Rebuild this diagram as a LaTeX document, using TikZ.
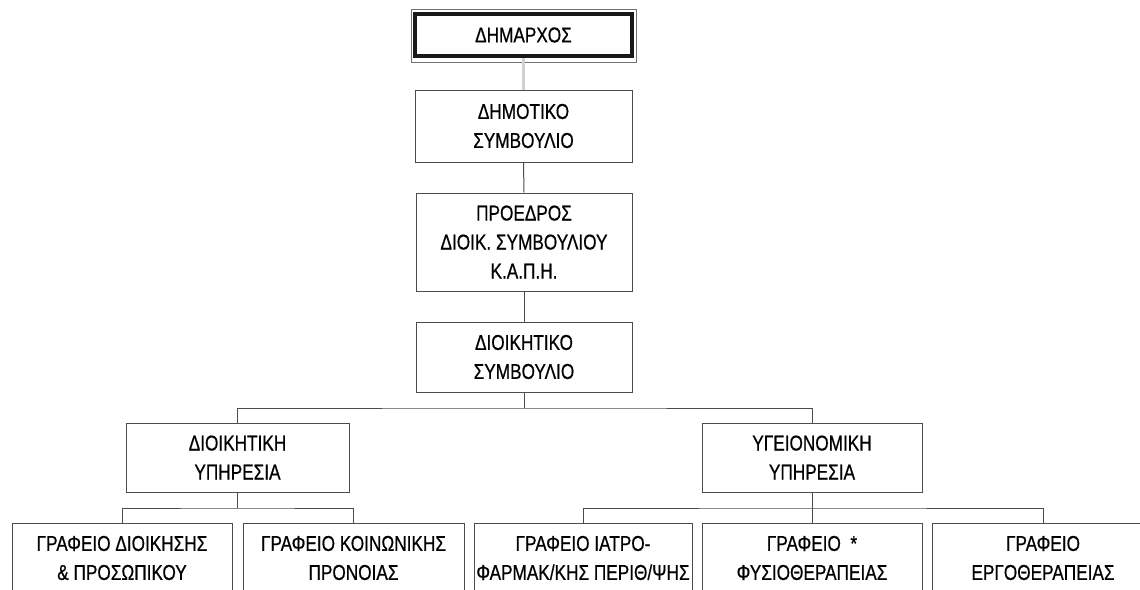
\documentclass[tikz,border=0pt]{standalone}
\usepackage{fontspec}
\setmainfont{Liberation Sans}[FakeStretch=0.80,FakeBold=0.6]
\begin{document}
\begin{tikzpicture}[x=1pt,y=-1pt,
  box/.style={draw=black!70, line width=1pt, inner sep=0pt, align=center,
    font=\fontsize{21.5}{29}\selectfont, text=black},
  link/.style={draw=black!70, line width=1pt},
  faint/.style={draw=black!18, line width=3pt}]
\useasboundingbox (0,0) rectangle (1140,589);
\fill[white] (0,0) rectangle (1140,589);
\clip (0,0) rectangle (1140,589);

% outer thin frame of the mayor box
\draw[black!55, line width=1pt] (411,9) rectangle (636,62);
\node[box, line width=3.5pt, draw=black!90, minimum width=217pt, minimum height=42pt] (mayor) at (523.5,35) {ΔΗΜΑΡΧΟΣ};

\node[box, minimum width=217pt, minimum height=72pt] (council) at (523.5,126) {ΔΗΜΟΤΙΚΟ\\ΣΥΜΒΟΥΛΙΟ};
\node[box, minimum width=216pt, minimum height=98pt] (pres) at (524,242) {ΠΡΟΕΔΡΟΣ\\ΔΙΟΙΚ. ΣΥΜΒΟΥΛΙΟΥ\\Κ.Α.Π.Η.};
\node[box, minimum width=216pt, minimum height=70pt] (board) at (524,357) {ΔΙΟΙΚΗΤΙΚΟ\\ΣΥΜΒΟΥΛΙΟ};

\node[box, minimum width=223pt, minimum height=69pt] (admin) at (237.5,457.5) {ΔΙΟΙΚΗΤΙΚΗ\\ΥΠΗΡΕΣΙΑ};
\node[box, minimum width=220pt, minimum height=69pt] (health) at (812,457.5) {ΥΓΕΙΟΝΟΜΙΚΗ\\ΥΠΗΡΕΣΙΑ};

\node[box, minimum width=220pt, minimum height=70pt] (b1) at (122,558) {ΓΡΑΦΕΙΟ ΔΙΟΙΚΗΣΗΣ\\\& ΠΡΟΣΩΠΙΚΟΥ};
\node[box, minimum width=221pt, minimum height=70pt] (b2) at (353.5,558) {ΓΡΑΦΕΙΟ ΚΟΙΝΩΝΙΚΗΣ\\ΠΡΟΝΟΙΑΣ};
\node[box, minimum width=218pt, minimum height=70pt] (b3) at (583,558) {ΓΡΑΦΕΙΟ ΙΑΤΡΟ-\\ΦΑΡΜΑΚ/ΚΗΣ ΠΕΡΙΘ/ΨΗΣ};
\node[box, minimum width=220pt, minimum height=70pt] (b4) at (812,558) {ΓΡΑΦΕΙΟ \ *\\ΦΥΣΙΟΘΕΡΑΠΕΙΑΣ};
\node[box, minimum width=222pt, minimum height=70pt] (b5) at (1043,558) {ΓΡΑΦΕΙΟ\\ΕΡΓΟΘΕΡΑΠΕΙΑΣ};

% connectors
\draw[faint] (mayor.south) -- (council.north);
\draw[link] (council.south) -- (pres.north);
\draw[link] (pres.south) -- (board.north);

\coordinate (busmid) at (524,408);
\draw[link] (board.south) -- (busmid);
\draw[link] (admin.north) |- (busmid) -| (health.north);

\coordinate (subl) at (237.5,508);
\draw[link] (admin.south) -- (subl);
\draw[link] (b1.north) |- (subl) -| (b2.north);

\coordinate (subr) at (812,508);
\draw[link] (health.south) -- (subr);
\draw[link] (b3.north) |- (subr) -| (b5.north);
\draw[link] (subr) -- (b4.north);
\end{tikzpicture}
\end{document}
